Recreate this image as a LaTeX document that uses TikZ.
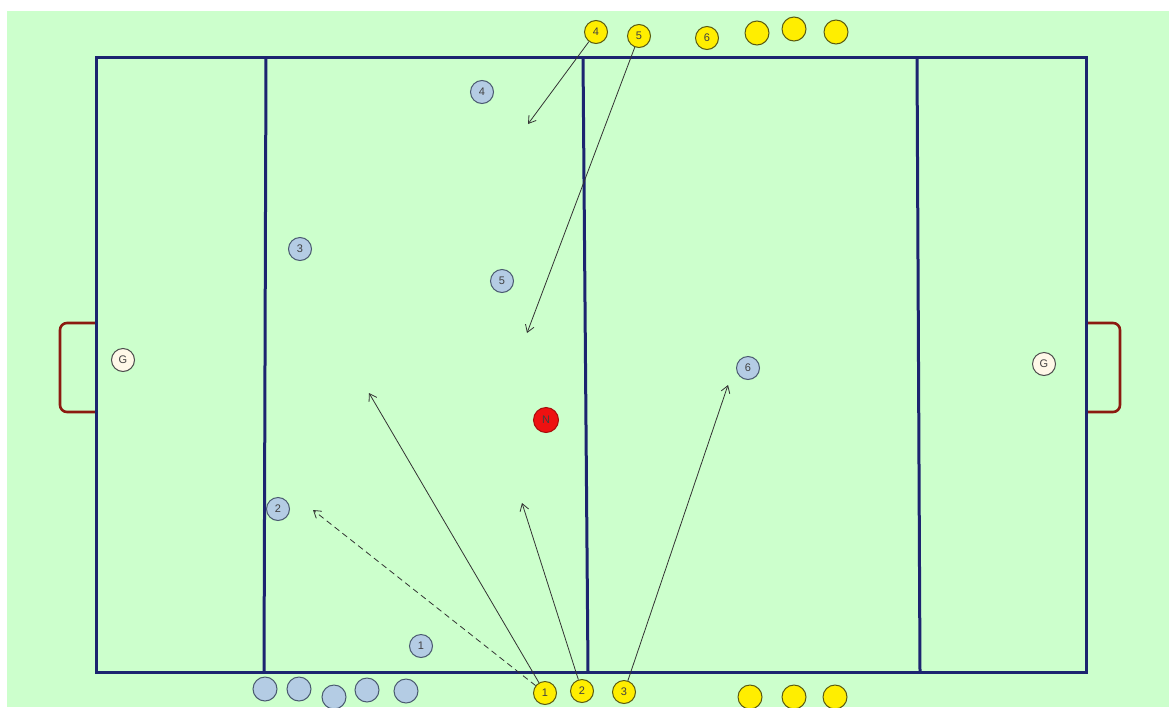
\documentclass[tikz,border=0pt]{standalone}
\usepackage{fontspec}
\setmainfont{Liberation Sans}
\usetikzlibrary{arrows.meta}
\definecolor{bg}{HTML}{CCFFCC}
\definecolor{navy}{HTML}{1C2470}
\definecolor{goalc}{HTML}{8B1A10}
\definecolor{blueP}{HTML}{B4CCE4}
\definecolor{blueB}{HTML}{4A5A70}
\definecolor{yelP}{HTML}{FFEE00}
\definecolor{yelB}{HTML}{5A5A10}
\definecolor{redP}{HTML}{EE1111}
\definecolor{gk}{HTML}{FFF8E8}
\tikzset{
  fieldline/.style={draw=navy, line width=3pt},
  goalline/.style={draw=goalc, line width=2.6pt, rounded corners=7pt},
  pl/.style={circle, draw, line width=1pt, minimum size=23pt, inner sep=0pt,
     font=\fontsize{11}{11}\selectfont, text=black!75},
  blue/.style={pl, fill=blueP, draw=blueB},
  bench/.style={pl, fill=blueP, draw=blueB, minimum size=24pt},
  yel/.style={pl, fill=yelP, draw=yelB},
  yelbig/.style={pl, fill=yelP, draw=yelB, minimum size=24pt},
  keeper/.style={pl, fill=gk, draw=black!70},
  ball/.style={pl, fill=redP, draw=redP!70!black, minimum size=25pt},
  arr/.style={draw=black!80, line width=0.8pt, -{Straight Barb[length=7pt,width=9pt]}},
}
\begin{document}
\begin{tikzpicture}[x=1pt,y=-1pt]
\useasboundingbox (0,0) rectangle (1169,707);
\fill[white] (0,0) rectangle (1169,707);
\fill[bg] (7,11) rectangle (1169,707);
% goals
\draw[goalline] (96,323) -- (60,323) -- (60,412) -- (96,412);
\draw[goalline] (1086,323) -- (1120,323) -- (1120,412) -- (1086,412);
% field
\draw[fieldline] (96,57) rectangle (1086,672);
\draw[fieldline] (266,57) -- (264,672);
\draw[fieldline] (583,57) -- (588,672);
\draw[fieldline] (917,57) -- (920,672);
% keepers
\node[keeper] (gl) at (123,360) {G};
\node[keeper] (gr) at (1044,364) {G};
% blue players
\node[blue] (b4) at (482,92) {4};
\node[blue] (b3) at (300,249) {3};
\node[blue] (b5) at (502,281) {5};
\node[blue] (b6) at (748,368) {6};
\node[blue] (b2) at (278,509) {2};
\node[blue] (b1) at (421,646) {1};
% blue bench
\node[bench] (bb1) at (265,689) {};
\node[bench] (bb2) at (299,689) {};
\node[bench] (bb3) at (334,697) {};
\node[bench] (bb4) at (367,690) {};
\node[bench] (bb5) at (406,691) {};
% ball
\node[ball] (n) at (546,420) {N};
% yellow players
\node[yel] (y1) at (545,693) {1};
\node[yel] (y2) at (582,691) {2};
\node[yel] (y3) at (624,692) {3};
\node[yel] (y4) at (596,32) {4};
\node[yel] (y5) at (639,36) {5};
\node[yel] (y6) at (707,38) {6};
\node[yelbig] (yt1) at (757,33) {};
\node[yelbig] (yt2) at (794,29) {};
\node[yelbig] (yt3) at (836,32) {};
\node[yelbig] (yb1) at (750,697) {};
\node[yelbig] (yb2) at (794,697) {};
\node[yelbig] (yb3) at (835,697) {};
% arrow targets
\coordinate (t4) at (528,124);
\coordinate (t5) at (527,333);
\coordinate (t1a) at (313,510);
\coordinate (t1b) at (369,393);
\coordinate (t2) at (522,503);
\coordinate (t3) at (728,385);
% arrows
\draw[arr] (y4) -- (t4);
\draw[arr] (y5) -- (t5);
\draw[arr, dash pattern=on 6pt off 4pt] (y1) -- (t1a);
\draw[arr] (y1) -- (t1b);
\draw[arr] (y2) -- (t2);
\draw[arr] (y3) -- (t3);
\end{tikzpicture}
\end{document}
